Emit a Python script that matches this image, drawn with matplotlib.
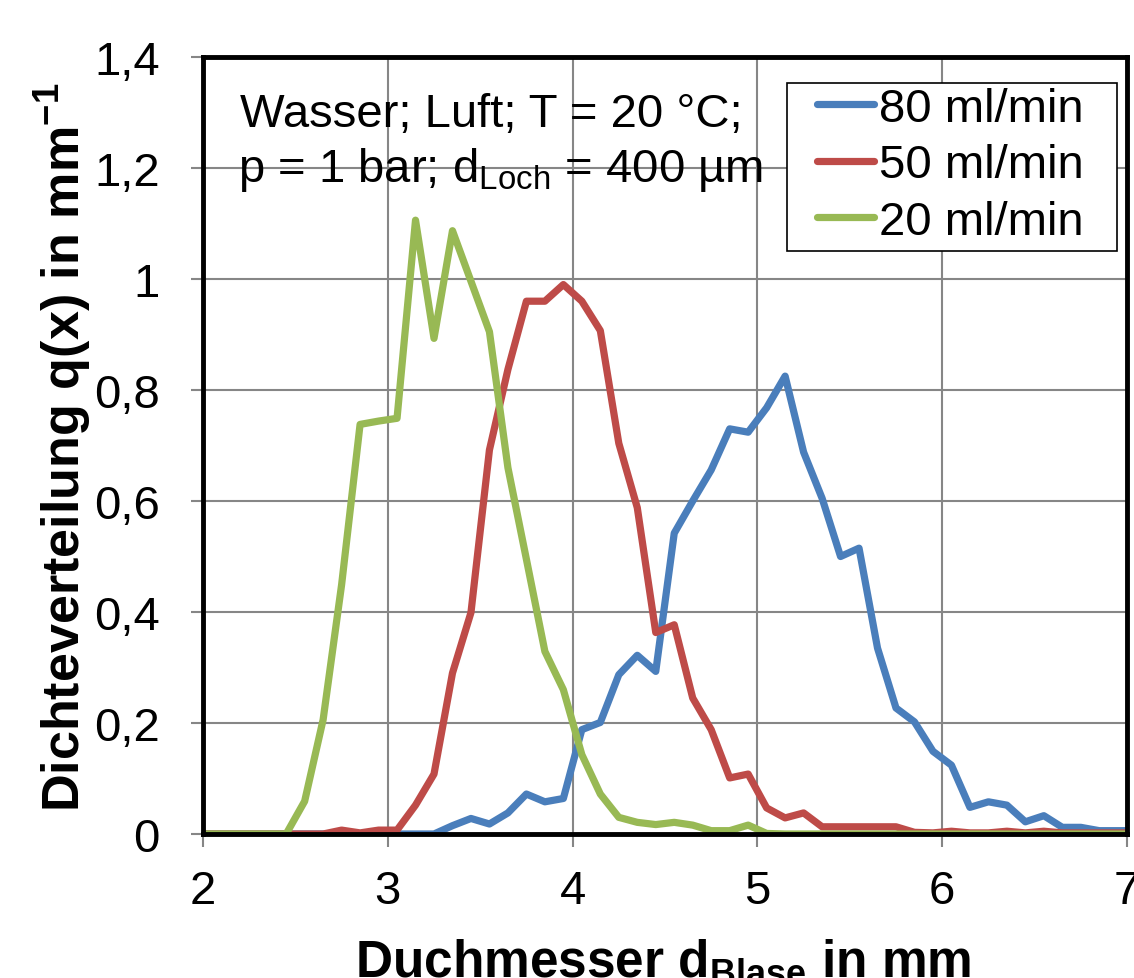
import numpy as np
import matplotlib
matplotlib.use("Agg")
import matplotlib.pyplot as plt
from matplotlib.patches import Rectangle

plt.rcParams['font.family'] = ['Liberation Sans', 'DejaVu Sans']
plt.rcParams['mathtext.fontset'] = 'custom'
plt.rcParams['mathtext.rm'] = 'Liberation Sans'
plt.rcParams['mathtext.bf'] = 'Liberation Sans:bold'

# bin centres of the bubble diameter classes (mm)
d_blase = [1.95, 2.05, 2.15, 2.25, 2.35, 2.45, 2.55, 2.65, 2.75, 2.85,
           2.95, 3.05, 3.15, 3.25, 3.35, 3.45, 3.55, 3.65, 3.75, 3.85,
           3.95, 4.05, 4.15, 4.25, 4.35, 4.45, 4.55, 4.65, 4.75, 4.85,
           4.95, 5.05, 5.15, 5.25, 5.35, 5.45, 5.55, 5.65, 5.75, 5.85,
           5.95, 6.05, 6.15, 6.25, 6.35, 6.45, 6.55, 6.65, 6.75, 6.85,
           6.95, 7.05]

q_80 = [0, 0, 0, 0, 0, 0, 0, 0, 0, 0,
        0, 0, 0, 0, 0.015, 0.028, 0.018, 0.038, 0.072, 0.058,
        0.064, 0.188, 0.201, 0.287, 0.322, 0.293, 0.542, 0.600, 0.656, 0.730,
        0.724, 0.768, 0.825, 0.688, 0.605, 0.500, 0.515, 0.335, 0.227, 0.202,
        0.149, 0.124, 0.048, 0.058, 0.052, 0.022, 0.033, 0.012, 0.012, 0.006,
        0.006, 0.006]

q_50 = [0, 0, 0, 0, 0, 0, 0, 0, 0.007, 0.002,
        0.007, 0.007, 0.052, 0.108, 0.290, 0.399, 0.692, 0.837, 0.960, 0.960,
        0.990, 0.960, 0.907, 0.704, 0.588, 0.363, 0.377, 0.245, 0.188, 0.101,
        0.108, 0.047, 0.029, 0.038, 0.013, 0.013, 0.013, 0.013, 0.013, 0.003,
        0.002, 0.005, 0.002, 0.002, 0.005, 0.002, 0.005, 0.002, 0.002, 0.002,
        0.002, 0.002]

q_20 = [0, 0, 0, 0, 0, 0, 0.059, 0.206, 0.449, 0.738,
        0.744, 0.749, 1.106, 0.893, 1.087, 0.996, 0.905, 0.660, 0.495, 0.329,
        0.260, 0.143, 0.072, 0.030, 0.021, 0.017, 0.021, 0.016, 0.006, 0.006,
        0.016, 0.001, 0, 0, 0, 0, 0, 0, 0, 0,
        0, 0, 0, 0, 0, 0, 0, 0, 0, 0,
        0, 0]

labels = ['80 ml/min', '50 ml/min', '20 ml/min']
colors = ['#4A7EBB', '#BE4B48', '#98B954']

x_ticks = [2, 3, 4, 5, 6, 7]
y_ticks = [0, 0.2, 0.4, 0.6, 0.8, 1.0, 1.2, 1.4]
y_ticklabels = ['0', '0,2', '0,4', '0,6', '0,8', '1', '1,2', '1,4']

W, H = 1134, 979
fig = plt.figure(figsize=(W / 100, H / 100), dpi=100)
ax = fig.add_axes([203 / W, 1 - 835 / H, (1127 - 203) / W, (835 - 58) / H])

for q, lab, c in zip([q_80, q_50, q_20], labels, colors):
    ax.plot(d_blase, q, color=c, lw=5.2, label=lab, solid_capstyle='round')

ax.set_xlim(2, 7)
ax.set_ylim(0, 1.4)
ax.set_xticks(x_ticks)
ax.set_yticks(y_ticks)
ax.set_yticklabels(y_ticklabels)
ax.grid(True, color='#868686', lw=1.5)
ax.set_axisbelow(True)
ax.tick_params(direction='out', length=9, width=1.5, color='#868686',
               labelsize=34)
ax.tick_params(axis='x', pad=16)
ax.tick_params(axis='y', pad=22)
for s in ax.spines.values():
    s.set_linewidth(3.5)
    s.set_color('black')

# legend frame drawn separately (wider side padding than matplotlib allows)
ax.add_patch(Rectangle((0.632, 0.750), 0.357, 0.2165, transform=ax.transAxes,
                       facecolor='white', edgecolor='black', lw=1.2, zorder=4))
leg = ax.legend(loc='upper right', bbox_to_anchor=(0.953, 0.962),
                borderaxespad=0, fontsize=34, handlelength=1.2,
                handletextpad=0.1, labelspacing=0.27, borderpad=0,
                frameon=False)
leg.set_zorder(5)

fig.text(240 / W, 1 - 127 / H, 'Wasser; Luft; T = 20 °C;', fontsize=34,
         va='baseline', ha='left')
fig.text(238 / W, 1 - 182 / H, r'p = 1 bar; d$_{\mathrm{Loch}}$ = 400 µm',
         fontsize=34, va='baseline', ha='left')

fig.text(663 / W, 2 / H, r'Duchmesser d$_{\mathbf{Blase}}$ in mm',
         fontsize=37, fontweight='bold', ha='center', va='baseline')
fig.text(94 / W, 1 - 447 / H, r'Dichteverteilung q(x) in mm$^{\mathbf{-1}}$',
         fontsize=37.5, fontweight='bold', rotation=90, ha='right', va='center')

fig.savefig('out.png', dpi=100)
